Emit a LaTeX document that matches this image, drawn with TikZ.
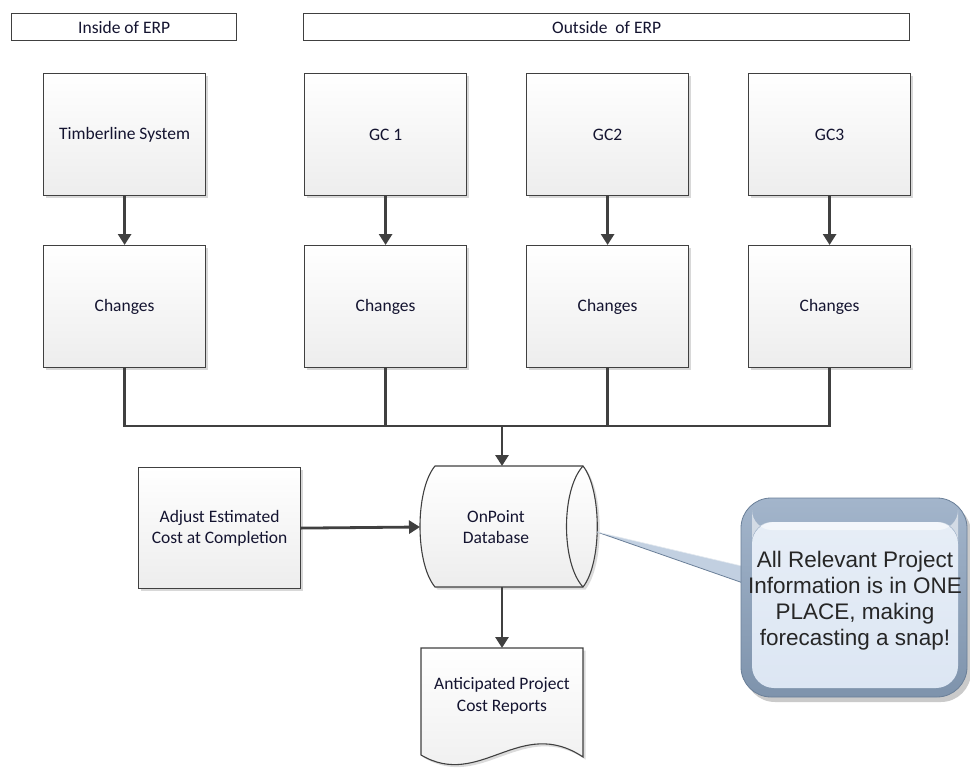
\documentclass[tikz,border=0pt]{standalone}
\usepackage{fontspec}
\setmainfont{Carlito}
\newfontfamily\arialf{Liberation Sans}
\usetikzlibrary{arrows.meta,shadows,calc}
\definecolor{edge}{HTML}{404040}
\definecolor{boxbot}{HTML}{EDEDED}
\definecolor{textc}{HTML}{141430}
\definecolor{calloutdark}{HTML}{7E93AC}
\definecolor{calloutmid}{HTML}{A3B5CB}
\definecolor{calloutlight}{HTML}{DCE6F3}
\definecolor{calloutedge}{HTML}{6A7F98}
\begin{document}
\begin{tikzpicture}[x=1pt,y=-1pt,
  lbl/.style={font=\fontsize{17.5}{21.5}\selectfont, text=textc, align=center},
  hdr/.style={draw=edge, line width=1.3pt, fill=white, minimum height=27pt, anchor=north west, inner sep=0pt, lbl},
  procbox/.style={draw=edge, line width=1.2pt, top color=white, bottom color=boxbot,
     minimum width=162pt, minimum height=122pt, anchor=north west, inner sep=0pt, lbl,
     drop shadow={shadow xshift=2.5pt, shadow yshift=-2.5pt, fill=black!22, opacity=0.7}},
  wire/.style={draw=edge, line width=2.8pt, line join=miter},
  arr/.style={wire, -{Triangle[width=13pt,length=11pt]}},
]
\useasboundingbox (0,0) rectangle (970,768);

% headers
\node[hdr, minimum width=225pt] (hin) at (11,13) {Inside of ERP};
\node[hdr, minimum width=606pt] (hout) at (303,13) {Outside\ \ of ERP};

% top row
\node[procbox] (tl) at (43,73) {Timberline System};
\node[procbox] (gc1) at (304,73) {GC 1};
\node[procbox] (gc2) at (526,73) {GC2};
\node[procbox] (gc3) at (748,73) {GC3};

% changes row
\node[procbox] (ch1) at (43,245) {Changes};
\node[procbox] (ch2) at (304,245) {Changes};
\node[procbox] (ch3) at (526,245) {Changes};
\node[procbox] (ch4) at (748,245) {Changes};

% adjust box
\node[procbox, minimum height=121pt] (adj) at (138,467) {Adjust Estimated\\Cost at Completion};

% arrows top to changes
\draw[arr] (tl.south) -- (ch1.north);
\draw[arr] (gc1.south) -- (ch2.north);
\draw[arr] (gc2.south) -- (ch3.north);
\draw[arr] (gc3.south) -- (ch4.north);

% database shape
\coordinate (dbtop) at (502,466);
\coordinate (dbleft) at (420,527);
\coordinate (dbbot) at (502,587);
\coordinate (dbright) at (597,532);
\fill[black!20, opacity=0.7, shift={(2.5,2.5)}] (435,466) -- (583,466) .. controls (602,490) and (602,563) .. (583,587) -- (435,587) .. controls (415,563) and (415,490) .. (435,466) -- cycle;
\path[top color=white, bottom color=boxbot] (435,466) -- (583,466) .. controls (602,490) and (602,563) .. (583,587) -- (435,587) .. controls (415,563) and (415,490) .. (435,466) -- cycle;
\draw[edge, line width=1.1pt] (435,466) -- (583,466) .. controls (602,490) and (602,563) .. (583,587) -- (435,587) .. controls (415,563) and (415,490) .. (435,466) -- cycle;
\draw[edge, line width=1.1pt] (583,466) .. controls (561,490) and (561,563) .. (583,587);
\node[lbl] (db) at (496,527) {OnPoint\\Database};

% document shape
\coordinate (doctop) at (502,648);
\fill[black!20, opacity=0.7, shift={(2.5,2.5)}] (421,648) -- (583,648) -- (583,757) .. controls (520,715) and (480,790) .. (421,755) -- cycle;
\path[top color=white, bottom color=boxbot] (421,648) -- (583,648) -- (583,757) .. controls (520,715) and (480,790) .. (421,755) -- cycle;
\draw[edge, line width=1.1pt] (421,648) -- (583,648) -- (583,757) .. controls (520,715) and (480,790) .. (421,755) -- cycle;
\node[lbl] (doc) at (502,696) {Anticipated Project\\Cost Reports};

% bus lines
\coordinate (bus) at (502,426);
\draw[wire] (ch1.south) -- (ch1.south |- bus) -- (ch4.south |- bus) -- (ch4.south);
\draw[wire] (ch2.south) -- (ch2.south |- bus);
\draw[wire] (ch3.south) -- (ch3.south |- bus);
\draw[arr] (bus) -- (dbtop);
\draw[arr] (adj.east) -- (dbleft);
\draw[arr] (dbbot) -- (doctop);

% callout
\coordinate (cpa) at (746,567);
\coordinate (cpb) at (746,584);
\fill[calloutlight!55!calloutmid] (dbright) -- (cpa) -- (cpb) -- cycle;
\draw[calloutedge, line width=0.8pt] (dbright) -- (cpb);
\draw[white!70!calloutmid, line width=0.6pt] (dbright) -- (cpa);
\fill[black!35, opacity=0.6, rounded corners=30pt] (745,503) rectangle (971,702);
\path[rounded corners=30pt, top color=calloutmid, bottom color=calloutdark] (741,498) rectangle (967,697);
\path[rounded corners=22pt, top color=calloutlight!70!white, bottom color=calloutlight] (752,522) rectangle (958,688);
\fill[white, opacity=0.55, rounded corners=20pt] (752,522) rectangle (958,530);
\draw[calloutedge, line width=0.8pt, rounded corners=30pt] (741,498) rectangle (967,697);
\node[font=\arialf\fontsize{22.5}{26}\selectfont, text=black!85, align=center, inner sep=0pt] (note) at (855,601) {All Relevant Project\\Information is in ONE\\PLACE, making\\forecasting a snap!};
\end{tikzpicture}
\end{document}
